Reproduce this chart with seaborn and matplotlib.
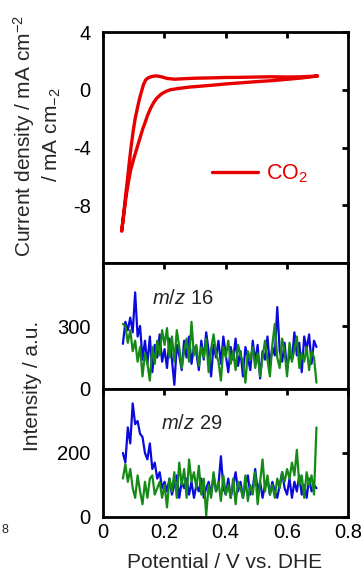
import matplotlib
matplotlib.use("Agg")
import matplotlib.pyplot as plt
import seaborn as sns
import numpy as np

# ---------------- data ----------------
# CV (CO2): negative-going sweep then positive-going sweep
cv_potential = [0.70, 0.65, 0.60, 0.55, 0.50, 0.45, 0.40, 0.35, 0.30, 0.26, 0.235, 0.21, 0.19, 0.175,
                0.162, 0.150, 0.140, 0.132, 0.126, 0.120, 0.112, 0.105, 0.099, 0.092, 0.086, 0.080,
                0.073, 0.067, 0.061,
                0.068, 0.076, 0.083, 0.090, 0.100, 0.110, 0.120, 0.130, 0.137, 0.145, 0.155, 0.165,
                0.175, 0.19, 0.205, 0.22, 0.25, 0.28, 0.32, 0.36, 0.40, 0.45, 0.50, 0.55, 0.60,
                0.65, 0.70]
cv_current = [0.95, 0.90, 0.88, 0.90, 0.88, 0.86, 0.85, 0.82, 0.80, 0.76, 0.73, 0.78, 0.90, 0.96,
              0.93, 0.85, 0.70, 0.35, -0.1, -0.55, -1.3, -2.0, -2.8, -3.9, -5.0, -6.2,
              -7.5, -8.7, -9.8,
              -8.6, -7.3, -6.4, -5.6, -4.8, -4.1, -3.4, -2.7, -2.3, -1.8, -1.3, -0.9,
              -0.6, -0.3, -0.12, 0.0, 0.1, 0.18, 0.25, 0.32, 0.40, 0.48, 0.56, 0.63, 0.72,
              0.82, 0.95]

ms_potential = [0.065, 0.073, 0.081, 0.089, 0.097, 0.105, 0.113, 0.121, 0.129, 0.137,
                0.145, 0.153, 0.161, 0.169, 0.177, 0.185, 0.193, 0.201, 0.209, 0.217,
                0.225, 0.233, 0.241, 0.249, 0.257, 0.265, 0.273, 0.281, 0.289, 0.297,
                0.305, 0.313, 0.321, 0.329, 0.337, 0.345, 0.353, 0.361, 0.369, 0.377,
                0.385, 0.393, 0.401, 0.409, 0.417, 0.425, 0.433, 0.441, 0.449, 0.457,
                0.465, 0.473, 0.481, 0.489, 0.497, 0.505, 0.513, 0.521, 0.529, 0.537,
                0.545, 0.553, 0.561, 0.569, 0.577, 0.585, 0.593, 0.601, 0.609, 0.617,
                0.625, 0.633, 0.641, 0.649, 0.657, 0.665, 0.673, 0.681, 0.689, 0.697]

mz16_blue = [215, 320, 280, 340, 270, 460, 250, 300, 140, 230,
             120, 250, 80, 210, 150, 260, 130, 190, 100, 240,
             140, 20, 210, 160, 90, 230, 150, 250, 120, 200,
             170, 90, 230, 140, 270, 180, 60, 210, 150, 230,
             120, 250, 160, 80, 200, 140, 240, 110, 180, 60,
             200, 150, 90, 230, 130, 210, 50, 180, 140, 250,
             110, 200, 160, 390, 180, 130, 220, 90, 170, 140,
             270, 160, 220, 80, 250, 190, 260, 120, 230, 200]
mz16_green = [310, 300, 220, 280, 180, 230, 130, 200, 60, 170,
              120, 40, 200, 120, 230, 160, 280, 210, 290, 150,
              250, 130, 280, 200, 100, 180, 240, 130, 320, 160,
              210, 110, 200, 150, 240, 80, 190, 260, 170, 130,
              40, 200, 150, 230, 120, 180, 90, 210, 160, 130,
              30, 180, 140, 200, 100, 170, 60, 150, 230, 140,
              60, 210, 310, 150, 100, 240, 180, 60, 220, 130,
              190, 250, 100, 170, 130, 200, 90, 180, 150, 30]

mz29_blue = [200, 170, 280, 230, 355, 290, 300, 260, 250, 200,
             180, 230, 150, 170, 120, 140, 90, 110, 80, 120,
             70, 100, 130, 60, 110, 90, 120, 70, 110, 60,
             100, 80, 120, 60, 90, 110, 70, 130, 80, 100,
             190, 90, 70, 120, 60, 100, 140, 80, 110, 60,
             100, 130, 70, 90, 150, 80, 110, 60, 100, 120,
             70, 110, 80, 60, 100, 140, 90, 70, 120, 60,
             110, 80, 130, 70, 100, 60, 120, 80, 100, 90]
mz29_green = [120, 165, 110, 150, 90, 60, 130, 80, 40, 110,
              60, 120, 130, 70, 90, 110, 60, 100, 30, 120,
              80, 140, 60, 170, 100, 150, 60, 180, 110, 140,
              90, 160, 70, 120, 5, 100, 60, 140, 80, 110,
              50, 130, 70, 100, 60, 120, 40, 110, 90, 60,
              130, 50, 100, 70, 140, 40, 110, 180, 80, 130,
              70, 100, 60, 120, 90, 140, 110, 150, 120, 170,
              130, 210, 100, 130, 60, 140, 100, 130, 70, 280]

x_ticks = [0, 0.2, 0.4, 0.6, 0.8]
x_ticklabels = ["0", "0.2", "0.4", "0.6", "0.8"]
cv_yticks = [4, 0, -4, -8]
mz16_yticks = [0, 300]
mz29_yticks = [0, 200]

# ---------------- style ----------------
sns.set_theme(style="white")
plt.rcParams["font.family"] = ["Liberation Sans", "DejaVu Sans"]
plt.rcParams["mathtext.fontset"] = "custom"
plt.rcParams["mathtext.rm"] = "Liberation Sans"
plt.rcParams["mathtext.it"] = "Liberation Sans:italic"
plt.rcParams["mathtext.default"] = "regular"

RED = "#e60000"
BLUE = "#0a0adc"
GREEN = "#168a16"
TICK_FS = 14.5
LAB_FS = 15

W, H = 361, 574
fig = plt.figure(figsize=(W / 100, H / 100), dpi=100)

def rect(l, t, r, b):
    return [l / W, 1 - b / H, (r - l) / W, (b - t) / H]

ax1 = fig.add_axes(rect(103, 32, 348, 263))
ax2 = fig.add_axes(rect(103, 263, 348, 389))
ax3 = fig.add_axes(rect(103, 389, 348, 517))

sns.lineplot(x=cv_potential, y=cv_current, sort=False, estimator=None, color=RED,
             lw=2.4, ax=ax1, label="CO$_2$")
sns.lineplot(x=ms_potential, y=mz16_blue, sort=False, estimator=None, color=BLUE, lw=1.6, ax=ax2)
sns.lineplot(x=ms_potential, y=mz16_green, sort=False, estimator=None, color=GREEN, lw=1.6, ax=ax2)
sns.lineplot(x=ms_potential, y=mz29_blue, sort=False, estimator=None, color=BLUE, lw=1.6, ax=ax3)
sns.lineplot(x=ms_potential, y=mz29_green, sort=False, estimator=None, color=GREEN, lw=1.6, ax=ax3)

for ax in (ax1, ax2, ax3):
    ax.set_xlim(0, 0.8)
    ax.set_xticks(x_ticks)
    for s in ax.spines.values():
        s.set_linewidth(2.0)
        s.set_color("black")
    ax.tick_params(direction="in", length=4, width=2, top=True, right=True,
                   labelsize=TICK_FS, colors="black")
    ax.tick_params(axis="y", pad=9)
    ax.tick_params(axis="x", pad=4)
    ax.set_xlabel("")
    ax.set_ylabel("")

ax1.set_ylim(-12, 4)
ax1.set_yticks(cv_yticks)
ax1.set_yticklabels([str(v) for v in cv_yticks])
ax1.tick_params(labelbottom=False)

ax2.set_ylim(0, 600)
ax2.set_yticks(mz16_yticks)
ax2.set_yticklabels([str(v) for v in mz16_yticks])
ax2.tick_params(labelbottom=False)

ax3.set_ylim(0, 400)
ax3.set_yticks(mz29_yticks)
ax3.set_yticklabels([str(v) for v in mz29_yticks])
ax3.set_xticklabels(x_ticklabels)

leg = ax1.legend(loc="center left", bbox_to_anchor=(0.445, 0.385), frameon=False,
                 fontsize=15.5, handlelength=2.15, handletextpad=0.35,
                 borderpad=0, borderaxespad=0, labelcolor=RED)
for h in leg.get_lines():
    h.set_linewidth(2.4)

ax2.text(0.199, 0.72, r"$\mathit{m/z}$ 16", transform=ax2.transAxes, fontsize=TICK_FS,
         ha="left", va="center")
ax3.text(0.237, 0.73, r"$\mathit{m/z}$ 29", transform=ax3.transAxes, fontsize=TICK_FS,
         ha="left", va="center")

# axis labels
fig.text(24 / W, 1 - 136 / H, "Current density / mA cm$^{-2}$", rotation=90,
         ha="center", va="center", fontsize=LAB_FS)
fig.text(52 / W, 1 - 135 / H, "/ mA cm$_{-2}$", rotation=90,
         ha="center", va="center", fontsize=LAB_FS)
fig.text(32 / W, 1 - 386 / H, "Intensity / a.u.", rotation=90,
         ha="center", va="center", fontsize=LAB_FS)
fig.text(225 / W, 1 - 563 / H, "Potential / V vs. DHE", ha="center", va="center",
         fontsize=LAB_FS)
# remnant tick label at the far left edge (kept fully inside the canvas)
fig.text(1 / W, 1 - 530 / H, "8", ha="left", va="center", fontsize=9)

fig.savefig("out.png", dpi=100)
